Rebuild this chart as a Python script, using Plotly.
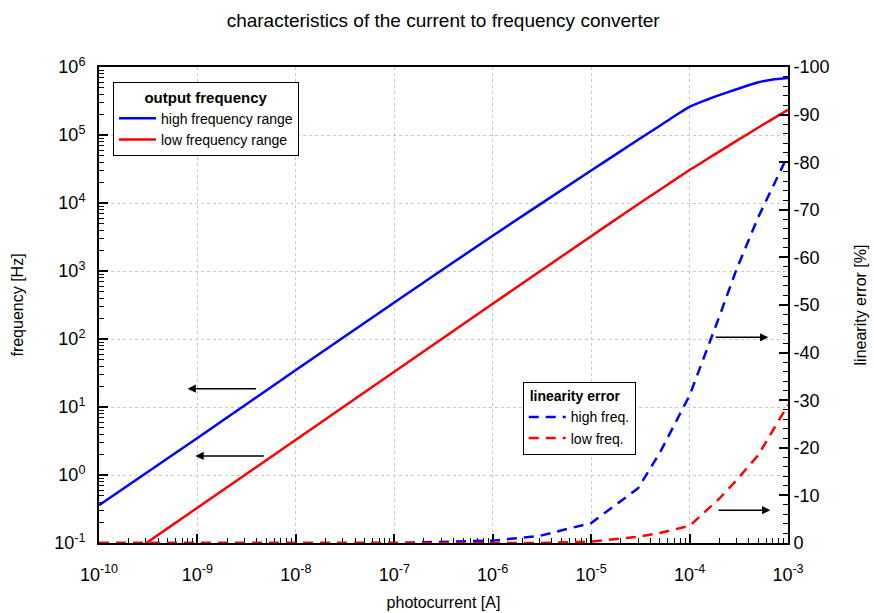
import plotly.graph_objects as go

# ---------------- data ----------------
current = [1e-10, 1e-9, 1e-8, 1e-7, 1e-6, 1e-5, 2e-5, 3e-5, 5e-5, 7e-5, 1e-4,
           1.5e-4, 2e-4, 3e-4, 5e-4, 7e-4, 1e-3]
freq_high = [0.36, 3.5, 35, 345, 3300, 3.0e4, 5.8e4, 8.5e4, 1.37e5, 1.89e5, 2.6e5,
             3.3e5, 3.85e5, 4.7e5, 5.95e5, 6.55e5, 6.9e5]
freq_low = [0.033, 0.33, 3.3, 33, 330, 3.25e3, 6.45e3, 9.6e3, 1.57e4, 2.17e4, 3.05e4,
            4.4e4, 5.7e4, 8.2e4, 1.29e5, 1.73e5, 2.34e5]

current_err = [1e-10, 1e-9, 1e-8, 1e-7, 1e-6, 3e-6, 1e-5, 3e-5, 5e-5, 1e-4, 2e-4, 3e-4, 5e-4, 1e-3]
err_high = [0, 0, 0, 0, -0.5, -1.5, -4.2, -11.5, -19, -31, -47.5, -57.5, -68.5, -81.5]
err_low = [0, 0, 0, 0, 0, 0, -0.3, -1.3, -2.1, -3.6, -9.3, -13.2, -18.5, -29]

x_exps = [-10, -9, -8, -7, -6, -5, -4, -3]
y_exps = [-1, 0, 1, 2, 3, 4, 5, 6]
err_ticks = [0, -10, -20, -30, -40, -50, -60, -70, -80, -90, -100]

FONT = "Liberation Sans, Arial, sans-serif"
BLUE = "#0000ff"
RED = "#ff0000"

fig = go.Figure()

fig.add_trace(go.Scatter(x=current_err, y=err_high, mode="lines", yaxis="y2",
                         line=dict(color=BLUE, width=2.5, dash="10px,7px"),
                         name="high freq.", legend="legend2"))
fig.add_trace(go.Scatter(x=current_err, y=err_low, mode="lines", yaxis="y2",
                         line=dict(color=RED, width=2.5, dash="10px,7px"),
                         name="low freq.", legend="legend2"))
fig.add_trace(go.Scatter(x=current, y=freq_high, mode="lines",
                         line=dict(color=BLUE, width=2.5, shape="spline", smoothing=0.6),
                         name="high frequency range", legend="legend"))
fig.add_trace(go.Scatter(x=current, y=freq_low, mode="lines",
                         line=dict(color=RED, width=2.5, shape="spline", smoothing=0.6),
                         name="low frequency range", legend="legend"))

# arrows (pointing to the relevant axis)
arrows = [
    (-8.39, -9.10, 1.27),
    (-8.31, -9.02, 0.28),
]
for xt, xh, yy in arrows:
    fig.add_annotation(x=xh, y=yy, ax=xt, ay=yy, xref="x", yref="y", axref="x", ayref="y",
                       text="", showarrow=True, arrowhead=2, arrowsize=1.1,
                       arrowwidth=1.5, arrowcolor="black")
arrows_r = [
    (-3.75, -3.20, -43.2),
    (-3.72, -3.18, -6.9),
]
for xt, xh, yy in arrows_r:
    fig.add_annotation(x=xh, y=yy, ax=xt, ay=yy, xref="x", yref="y2", axref="x", ayref="y2",
                       text="", showarrow=True, arrowhead=2, arrowsize=1.1,
                       arrowwidth=1.5, arrowcolor="black")

fig.update_layout(
    width=874, height=613,
    margin=dict(l=99, r=86, t=67, b=70),
    paper_bgcolor="white", plot_bgcolor="white",
    font=dict(family=FONT, size=14, color="black"),
    title=dict(text="characteristics of the current to frequency converter",
               x=0.507, xanchor="center", y=0.967, yanchor="middle",
               font=dict(size=19)),
    xaxis=dict(
        type="log", range=[-10, -3],
        tickvals=[10 ** e for e in x_exps],
        ticktext=["10<sup>%d</sup>" % e for e in x_exps],
        tickfont=dict(size=18), ticklabelstandoff=14,
        ticks="inside", ticklen=9, tickwidth=1.5, tickcolor="black",
        minor=dict(ticks="inside", ticklen=5, tickwidth=1.2, tickcolor="black",
                   dtick="D1", showgrid=False),
        showline=True, linewidth=2, linecolor="black", mirror=True,
        showgrid=True, gridcolor="#c8c8c8", griddash="dot", gridwidth=1,
        zeroline=False, layer="below traces", automargin=False,
        title=dict(text="photocurrent [A]", font=dict(size=16), standoff=13),
    ),
    yaxis=dict(
        type="log", range=[-1, 6],
        tickvals=[10 ** e for e in y_exps],
        ticktext=["10<sup>%d</sup>" % e for e in y_exps],
        tickfont=dict(size=18), ticklabelstandoff=8,
        ticks="inside", ticklen=9, tickwidth=1.5, tickcolor="black",
        minor=dict(ticks="inside", ticklen=5, tickwidth=1.2, tickcolor="black",
                   dtick="D1", showgrid=False),
        showline=True, linewidth=2, linecolor="black", mirror=True,
        showgrid=True, gridcolor="#c8c8c8", griddash="dot", gridwidth=1,
        zeroline=False, automargin=False,
        title=dict(text="frequency [Hz]", font=dict(size=16), standoff=27),
    ),
    yaxis2=dict(
        overlaying="y", side="right", range=[0, -100],
        tickvals=err_ticks, ticktext=[str(v) for v in err_ticks],
        tickfont=dict(size=18),
        ticks="inside", ticklen=9, tickwidth=1.5, tickcolor="black",
        minor=dict(ticks="inside", ticklen=5, tickwidth=1.2, tickcolor="black",
                   dtick=2, showgrid=False),
        showline=True, linewidth=2, linecolor="black",
        showgrid=False, zeroline=False, automargin=False,
        title=dict(text="linearity error [%]", font=dict(size=16), standoff=26),
    ),
    legend=dict(
        x=0.0203, y=0.968, xanchor="left", yanchor="top",
        bgcolor="white", bordercolor="black", borderwidth=1,
        font=dict(size=14), tracegroupgap=0, itemwidth=37,
        title=dict(text="<b>output frequency</b>", side="top center", font=dict(size=15)),
    ),
    legend2=dict(
        x=0.615, y=0.338, xanchor="left", yanchor="top",
        bgcolor="white", bordercolor="black", borderwidth=1,
        font=dict(size=14), tracegroupgap=0, itemwidth=37,
        title=dict(text="&nbsp;<b>linearity error</b>", side="top", font=dict(size=14)),
    ),
    showlegend=True,
)

fig.write_html("out.html",
               config={"displayModeBar": False},
               post_script="document.body.style.margin='0px';"
                           "document.body.style.overflow='hidden';")
